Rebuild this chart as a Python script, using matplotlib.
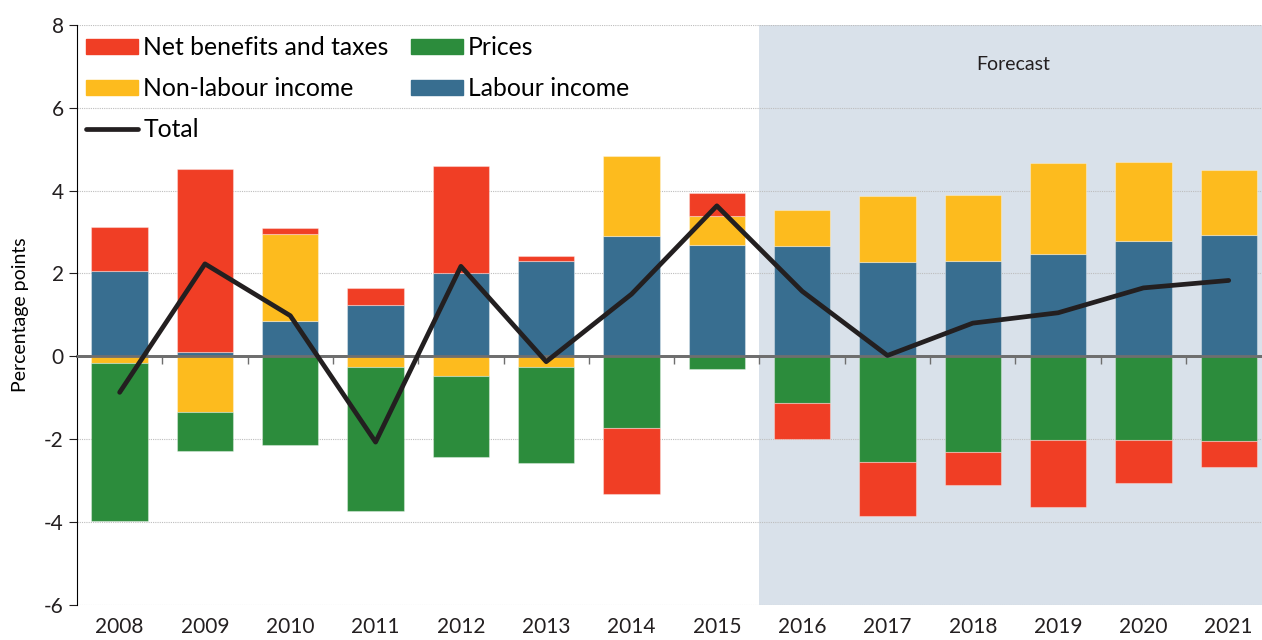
import numpy as np
import matplotlib.pyplot as plt
from matplotlib.patches import Patch
from matplotlib.lines import Line2D

plt.rcParams['font.family'] = ['Lato', 'DejaVu Sans']
plt.rcParams['axes.unicode_minus'] = False

years = ["2008", "2009", "2010", "2011", "2012", "2013", "2014",
         "2015", "2016", "2017", "2018", "2019", "2020", "2021"]
labour = [2.05, 0.11, 0.85, 1.23, 2.01, 2.31, 2.91, 2.69, 2.65, 2.27, 2.31, 2.47, 2.77, 2.93]
non_labour = [-0.15, -1.34, 2.11, -0.26, -0.48, -0.27, 1.93, 0.70, 0.88, 1.59, 1.59, 2.20, 1.92, 1.56]
prices = [-3.83, -0.95, -2.13, -3.47, -1.95, -2.30, -1.73, -0.30, -1.12, -2.54, -2.31, -2.03, -2.03, -2.04]
net_benefits = [1.07, 4.41, 0.13, 0.42, 2.57, 0.12, -1.59, 0.55, -0.87, -1.31, -0.79, -1.61, -1.02, -0.63]
total = [-0.87, 2.23, 0.98, -2.07, 2.17, -0.13, 1.50, 3.63, 1.57, 0.02, 0.80, 1.05, 1.65, 1.83]
forecast_start = "2016"

CLR = {"labour": "#386E90", "non_labour": "#FDBB1E",
       "prices": "#2C8C3C", "net": "#F03E25", "total": "#231F20"}
series = [("labour", labour), ("non_labour", non_labour),
          ("prices", prices), ("net", net_benefits)]

fig = plt.figure(figsize=(12.62, 6.40), dpi=100)
ax = fig.add_axes([0.061, 0.0547, 0.939, 0.9067])

x = np.arange(len(years))
pos_base = np.zeros(len(years)); neg_base = np.zeros(len(years))
for key, vals in series:
    v = np.array(vals)
    base = np.where(v >= 0, pos_base, neg_base)
    ax.bar(x, v, bottom=base, width=0.66, color=CLR[key],
           edgecolor=(1, 1, 1, 0.35), linewidth=0.8, zorder=3)
    pos_base += np.where(v >= 0, v, 0); neg_base += np.where(v < 0, v, 0)

ax.plot(x, total, color=CLR["total"], lw=3.4, zorder=5, solid_capstyle="round")

# forecast shading
fs = years.index(forecast_start) - 0.5
ax.axvspan(fs, len(years), color="#D9E1EA", zorder=0, lw=0)
ax.text((fs + len(years) - 1 + 0.45) / 2, 7.03, "Forecast", ha="center",
        va="center", fontsize=14, color="#231F20")

ax.set_xlim(-0.5, 13.39); ax.set_ylim(-6, 8)
ax.set_yticks(range(-6, 9, 2))
ax.yaxis.grid(True, linestyle=(0, (1, 1)), color="#BDBDBD", lw=0.8, zorder=1)
ax.set_axisbelow(True)
ax.set_xticks(x); ax.set_xticklabels(years)
ax.tick_params(axis="x", length=0, labelsize=15, pad=9, colors="#231F20")
ax.tick_params(axis="y", length=6, labelsize=15, direction="out", colors="#231F20")
for sp in ("top", "right", "bottom"): ax.spines[sp].set_visible(False)
ax.set_ylabel("Percentage points", fontsize=14, labelpad=11)

# zero axis with boundary ticks
zax = ax.secondary_xaxis(0, transform=ax.transData)
zax.spines["bottom"].set_color("#6E6E6E"); zax.spines["bottom"].set_linewidth(2)
zax.spines["bottom"].set_zorder(4)
zax.set_xticks(np.arange(0.5, len(years) - 1, 1.0))
zax.tick_params(length=6, width=1, color="#6E6E6E", labelbottom=False)
ax.axhline(0, color="#6E6E6E", lw=2, zorder=4)

handles = [Patch(color=CLR["net"], label="Net benefits and taxes"),
           Patch(color=CLR["non_labour"], label="Non-labour income"),
           Line2D([], [], color=CLR["total"], lw=3.4, solid_capstyle="round", label="Total"),
           Patch(color=CLR["prices"], label="Prices"),
           Patch(color=CLR["labour"], label="Labour income")]
ax.legend(handles=handles, ncol=2, loc="upper left", bbox_to_anchor=(0.008, 0.98),
          frameon=False, fontsize=17.8, handlelength=2.1, handleheight=0.6,
          handletextpad=0.2, columnspacing=0.9, labelspacing=0.72,
          borderpad=0, borderaxespad=0)

fig.savefig("out.png", dpi=100)
